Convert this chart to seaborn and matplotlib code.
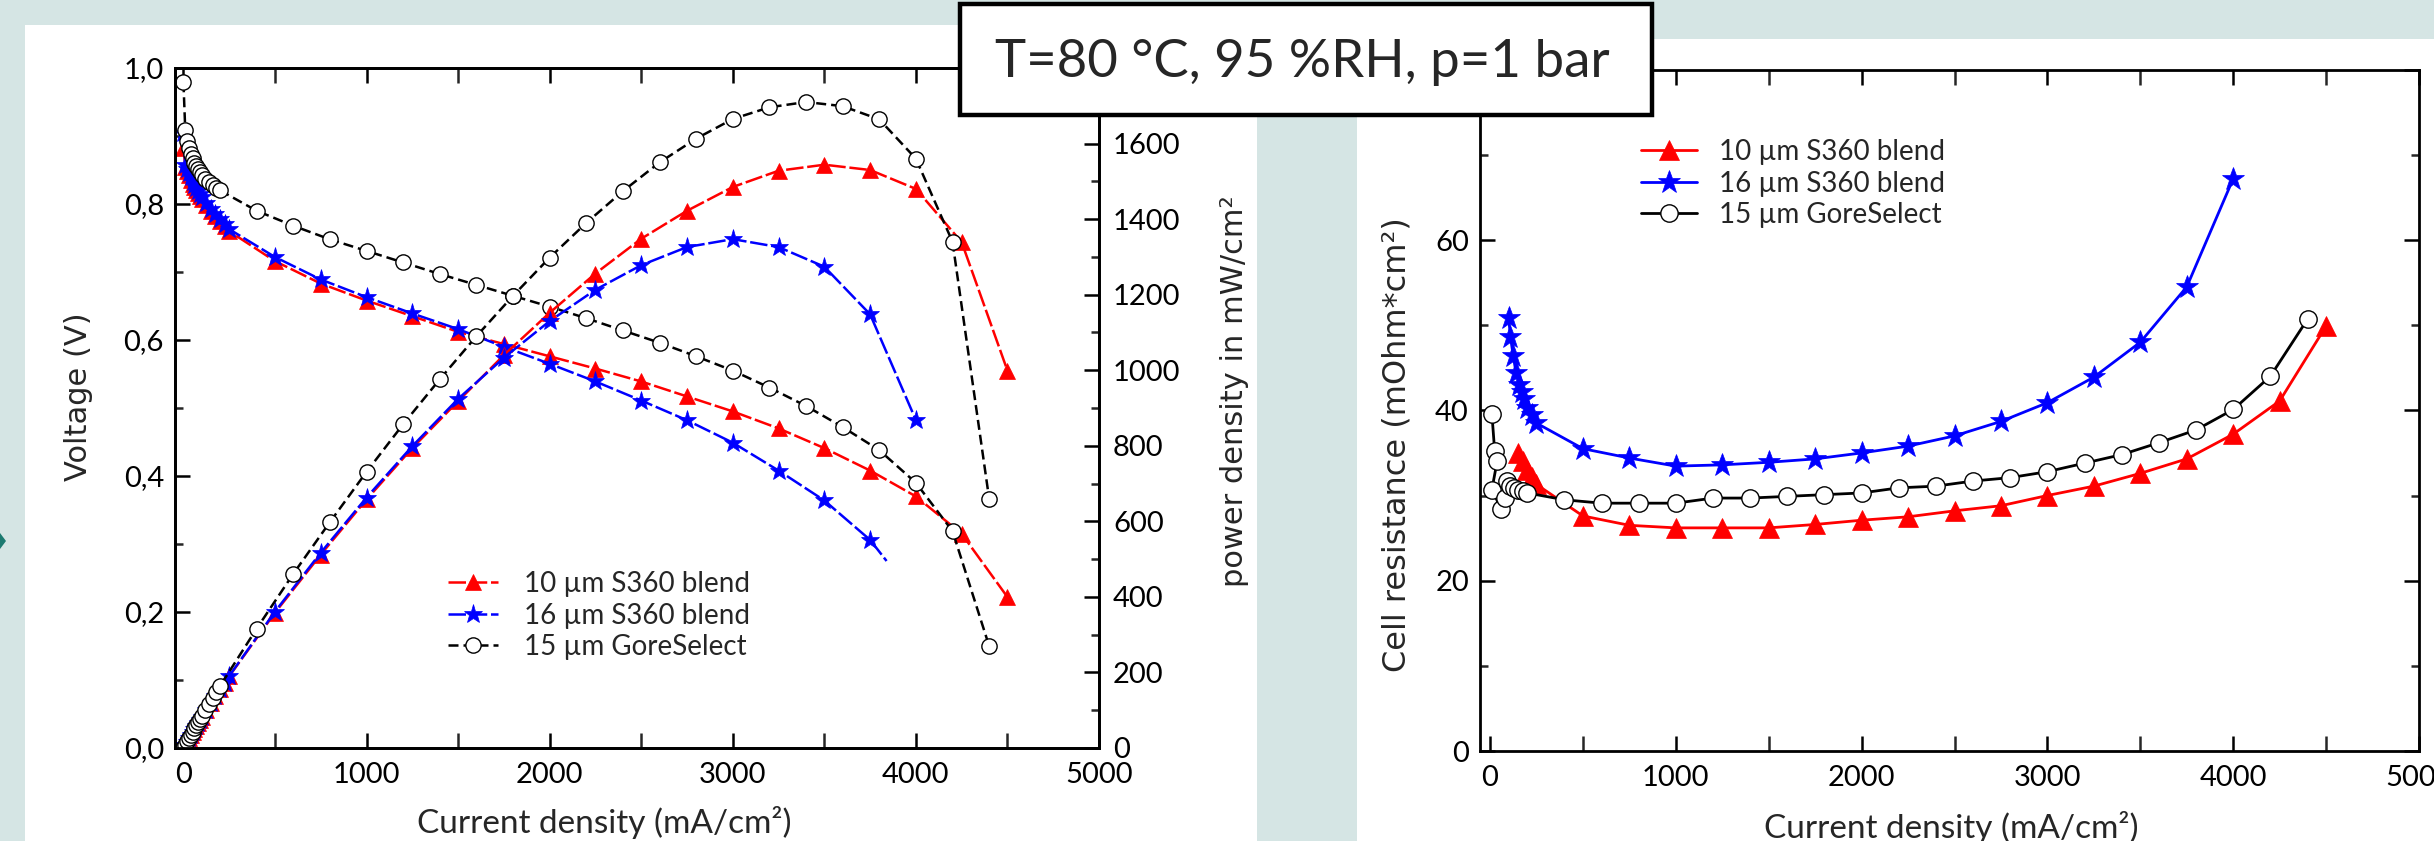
import matplotlib
matplotlib.use("Agg")
import matplotlib.pyplot as plt
import seaborn as sns
from matplotlib.patches import Rectangle, Polygon
from matplotlib.ticker import MultipleLocator, FuncFormatter

# ---------------- data ----------------
labels = ["10 µm S360 blend", "16 µm S360 blend", "15 µm GoreSelect"]

# 10 um S360 blend: polarisation (V) and power density (mW/cm2)
j_red = [0, 10, 20, 30, 40, 50, 60, 70, 80, 90, 100, 125, 150, 175, 200, 225, 250,
         500, 750, 1000, 1250, 1500, 1750, 2000, 2250, 2500, 2750, 3000, 3250,
         3500, 3750, 4000, 4250, 4500]
v_red = [0.883, 0.855, 0.848, 0.842, 0.836, 0.830, 0.825, 0.820, 0.816, 0.812, 0.808,
         0.799, 0.790, 0.782, 0.775, 0.767, 0.760,
         0.716, 0.683, 0.658, 0.635, 0.612, 0.594, 0.576, 0.558, 0.539, 0.517, 0.495,
         0.470, 0.441, 0.408, 0.370, 0.315, 0.222]
p_red = [0, 8.6, 17.0, 25.3, 33.4, 41.5, 49.5, 57.4, 65.3, 73.1, 80.8, 99.9, 118.5,
         136.9, 155, 172.6, 190,
         358, 512, 658, 794, 918, 1040, 1152, 1256, 1348, 1422, 1485, 1528, 1544,
         1530, 1480, 1339, 999]

# 16 um S360 blend (voltage line stops short of the last power point)
j_blue_v = [0, 10, 20, 30, 40, 50, 60, 70, 80, 90, 100, 125, 150, 175, 200, 225, 250,
            500, 750, 1000, 1250, 1500, 1750, 2000, 2250, 2500, 2750, 3000, 3250,
            3500, 3750, 3840]
v_blue = [0.905, 0.858, 0.851, 0.845, 0.839, 0.833, 0.828, 0.823, 0.819, 0.815, 0.811,
          0.802, 0.793, 0.785, 0.778, 0.770, 0.763,
          0.722, 0.689, 0.663, 0.639, 0.616, 0.590, 0.565, 0.539, 0.511, 0.482, 0.449,
          0.408, 0.364, 0.306, 0.275]
j_blue_p = [0, 10, 20, 30, 40, 50, 60, 70, 80, 90, 100, 125, 150, 175, 200, 225, 250,
            500, 750, 1000, 1250, 1500, 1750, 2000, 2250, 2500, 2750, 3000, 3250,
            3500, 3750, 4000]
p_blue = [0, 8.6, 17.0, 25.4, 33.6, 41.7, 49.7, 57.6, 65.5, 73.4, 81.1, 100.3, 119.0,
          137.4, 155.6, 173.3, 190.8,
          361, 517, 663, 799, 924, 1033, 1130, 1213, 1278, 1326, 1347, 1326, 1274,
          1148, 868]

# 15 um GoreSelect
j_blk = [0, 10, 20, 30, 40, 50, 60, 70, 80, 90, 100, 120, 140, 160, 180, 200,
         400, 600, 800, 1000, 1200, 1400, 1600, 1800, 2000, 2200, 2400, 2600,
         2800, 3000, 3200, 3400, 3600, 3800, 4000, 4200, 4400]
v_blk = [0.979, 0.909, 0.893, 0.883, 0.874, 0.867, 0.861, 0.856, 0.851, 0.847, 0.843,
         0.837, 0.832, 0.828, 0.824, 0.820,
         0.790, 0.768, 0.748, 0.731, 0.714, 0.697, 0.681, 0.665, 0.649, 0.632, 0.614,
         0.596, 0.576, 0.555, 0.530, 0.503, 0.472, 0.438, 0.390, 0.319, 0.150]
p_blk = [0, 9.1, 17.9, 26.5, 35.0, 43.4, 51.7, 59.9, 68.1, 76.2, 84.3, 100.4, 116.5,
         132.5, 148.3, 164.0,
         316, 461, 598, 731, 857, 976, 1090, 1197, 1298, 1390, 1474, 1550, 1613,
         1665, 1696, 1710, 1699, 1664, 1560, 1340, 660]

# cell resistance (mOhm*cm2)
j_red_r = [150, 175, 200, 225, 250, 500, 750, 1000, 1250, 1500, 1750, 2000, 2250,
           2500, 2750, 3000, 3250, 3500, 3750, 4000, 4250, 4500]
r_red = [35.0, 34.0, 33.0, 32.2, 31.3, 27.6, 26.5, 26.2, 26.2, 26.2, 26.6, 27.1, 27.5,
         28.2, 28.8, 30.0, 31.1, 32.6, 34.3, 37.2, 41.1, 49.9]
j_blue_r = [100, 110, 125, 140, 155, 170, 185, 200, 225, 250, 500, 750, 1000, 1250,
            1500, 1750, 2000, 2250, 2500, 2750, 3000, 3250, 3500, 3750, 4000]
r_blue = [50.9, 48.6, 46.4, 44.4, 43.0, 42.2, 41.3, 40.3, 39.5, 38.5, 35.5, 34.4, 33.45,
          33.6, 33.9, 34.3, 35.0, 35.8, 37.0, 38.7, 40.9, 43.9, 48.0, 54.5, 67.2]
j_blk_r = [10, 25, 38, 10, 60, 78, 90, 110, 130, 150, 175, 200,
           400, 600, 800, 1000, 1200, 1400, 1600, 1800, 2000, 2200, 2400, 2600,
           2800, 3000, 3200, 3400, 3600, 3800, 4000, 4200, 4400]
r_blk = [39.6, 35.2, 34.0, 30.7, 28.4, 29.7, 31.7, 31.1, 30.9, 30.7, 30.5, 30.3,
         29.5, 29.1, 29.1, 29.1, 29.7, 29.7, 29.9, 30.1, 30.3, 30.9, 31.1, 31.7,
         32.1, 32.8, 33.8, 34.8, 36.2, 37.7, 40.1, 44.0, 50.7]

# ---------------- style ----------------
sns.set_theme(style="ticks")
plt.rcParams["font.family"] = ["Lato", "DejaVu Sans"]
plt.rcParams["axes.linewidth"] = 2
plt.rcParams["axes.edgecolor"] = "black"

W, H = 2434, 841
bg = "#d5e5e4"
fig = plt.figure(figsize=(W / 100, H / 100), dpi=100, facecolor=bg)


def fx(px):
    return px / W


def fy(py):
    return 1 - py / H


# slide panels
fig.patches.append(Rectangle((fx(25), 0), fx(1257) - fx(25), fy(25), transform=fig.transFigure,
                             facecolor="white", edgecolor="none", zorder=-5))
fig.patches.append(Rectangle((fx(1357), 0), 1 - fx(1357), fy(39), transform=fig.transFigure,
                             facecolor="white", edgecolor="none", zorder=-5))
fig.patches.append(Polygon([(fx(0), fy(533)), (fx(6), fy(541)), (fx(0), fy(549))],
                           transform=fig.transFigure, facecolor="#1c7a70",
                           edgecolor="none", zorder=-4))

ax = fig.add_axes([fx(175), fy(748), fx(1099) - fx(175), fy(68) - fy(748)])
ax2 = ax.twinx()
axr = fig.add_axes([fx(1480), fy(751), fx(2419) - fx(1480), fy(69.7) - fy(751)])

red, blue = "#ff0000", "#0000ff"
dash_rb = (0, (7, 1.5))
dash_k = (0, (4, 2))
lw = 1.8

# polarisation curves
sns.lineplot(x=j_red, y=v_red, ax=ax, color=red, lw=lw, linestyle=dash_rb, marker="^",
             markersize=12, markeredgecolor=red, markeredgewidth=0.5, sort=False,
             estimator=None, legend=False)
sns.lineplot(x=j_blue_v, y=v_blue, ax=ax, color=blue, lw=lw, linestyle=dash_rb, marker="*",
             markersize=14, markeredgecolor=blue, markeredgewidth=0.5, sort=False,
             estimator=None, markevery=list(range(len(j_blue_v) - 1)), legend=False)
sns.lineplot(x=j_blk, y=v_blk, ax=ax, color="black", lw=lw, linestyle=dash_k, marker="o",
             markersize=11, markerfacecolor="white", markeredgecolor="black",
             markeredgewidth=1.0, sort=False, estimator=None, legend=False)

# power density curves
sns.lineplot(x=j_red, y=p_red, ax=ax2, color=red, lw=lw, linestyle=dash_rb, marker="^",
             markersize=12, markeredgecolor=red, markeredgewidth=0.5, sort=False,
             estimator=None, legend=False)
sns.lineplot(x=j_blue_p, y=p_blue, ax=ax2, color=blue, lw=lw, linestyle=dash_rb, marker="*",
             markersize=14, markeredgecolor=blue, markeredgewidth=0.5, sort=False,
             estimator=None, legend=False)
sns.lineplot(x=j_blk, y=p_blk, ax=ax2, color="black", lw=lw, linestyle=dash_k, marker="o",
             markersize=11, markerfacecolor="white", markeredgecolor="black",
             markeredgewidth=1.0, sort=False, estimator=None, legend=False)

# resistance curves
sns.lineplot(x=j_red_r, y=r_red, ax=axr, color=red, lw=2, marker="^", markersize=15,
             markeredgecolor=red, markeredgewidth=0.5, sort=False, estimator=None,
             legend=False)
sns.lineplot(x=j_blue_r, y=r_blue, ax=axr, color=blue, lw=2, marker="*", markersize=17,
             markeredgecolor=blue, markeredgewidth=0.5, sort=False, estimator=None,
             legend=False)
sns.lineplot(x=j_blk_r, y=r_blk, ax=axr, color="black", lw=2, marker="o", markersize=12.5,
             markerfacecolor="white", markeredgecolor="black", markeredgewidth=1.0,
             sort=False, estimator=None, legend=False)

# ---------------- axes ----------------
ax.set_xlim(-46, 5000)
ax.set_ylim(0, 1.0)
ax2.set_ylim(0, 1800)
axr.set_xlim(-54, 5000)
axr.set_ylim(0, 80)

# the top labels (1800, 80) sit under the condition box in the slide
comma = FuncFormatter(lambda v, _: f"{v:.1f}".replace(".", ","))
hide_top_p = FuncFormatter(lambda v, _: "" if v > 1700 else f"{v:.0f}")
hide_top_r = FuncFormatter(lambda v, _: "" if v > 70 else f"{v:.0f}")
ax.xaxis.set_major_locator(MultipleLocator(1000))
ax.xaxis.set_minor_locator(MultipleLocator(500))
ax.yaxis.set_major_locator(MultipleLocator(0.2))
ax.yaxis.set_minor_locator(MultipleLocator(0.1))
ax.yaxis.set_major_formatter(comma)
ax2.yaxis.set_major_locator(MultipleLocator(200))
ax2.yaxis.set_minor_locator(MultipleLocator(100))
ax2.yaxis.set_major_formatter(hide_top_p)
axr.xaxis.set_major_locator(MultipleLocator(1000))
axr.xaxis.set_minor_locator(MultipleLocator(500))
axr.yaxis.set_major_locator(MultipleLocator(20))
axr.yaxis.set_minor_locator(MultipleLocator(10))
axr.yaxis.set_major_formatter(hide_top_r)

for a in (ax, ax2, axr):
    a.set_facecolor("none")
    for s in a.spines.values():
        s.set_linewidth(2)
        s.set_color("black")
    a.tick_params(which="major", direction="in", length=11, width=1.8, labelsize=21,
                  pad=8, colors="black")
    a.tick_params(which="minor", direction="in", length=6, width=1.8)

ax.set_facecolor("white")
axr.set_facecolor("white")
ax.tick_params(axis="x", which="both", top=True, bottom=True)
ax.tick_params(axis="x", which="major", pad=10)
ax.tick_params(axis="x", which="minor", length=11)
ax.tick_params(axis="y", which="both", left=True, right=False)
ax2.tick_params(axis="y", which="both", right=True, left=False, pad=10)
axr.tick_params(which="both", top=True, right=True, bottom=True, left=True)
axr.tick_params(axis="x", which="major", pad=10)
axr.tick_params(axis="x", which="minor", length=11)

ax.set_xlabel("Current density (mA/cm²)", fontsize=24)
ax.xaxis.set_label_coords(0.465, -0.11)
ax.set_ylabel("Voltage (V)", fontsize=22, family="DejaVu Sans")
ax.yaxis.set_label_coords(-0.104, 0.516)
ax2.set_ylabel("power density in mW/cm²", fontsize=22, family="DejaVu Sans")
ax2.yaxis.set_label_coords(1.147, 0.525)
axr.set_xlabel("Current density (mA/cm²)", fontsize=24)
axr.xaxis.set_label_coords(0.5016, -0.113)
axr.set_ylabel("Cell resistance (mOhm*cm²)", fontsize=23, family="DejaVu Sans")
axr.yaxis.set_label_coords(-0.0884, 0.449)
for lab in (ax.xaxis.label, ax.yaxis.label, ax2.yaxis.label, axr.xaxis.label, axr.yaxis.label):
    lab.set_verticalalignment("center")
    lab.set_horizontalalignment("center")

# legends
ax2.legend(handles=ax.get_lines(), labels=labels, loc="upper left",
           bbox_to_anchor=(fx(448), fy(571)), bbox_transform=fig.transFigure,
           frameon=False, fontsize=20, borderpad=0, borderaxespad=0,
           handlelength=1.8, handletextpad=0.95, labelspacing=0.2)
axr.legend(handles=axr.get_lines(), labels=labels, loc="upper left",
           bbox_to_anchor=(fx(1641), fy(139)), bbox_transform=fig.transFigure,
           frameon=False, fontsize=20, borderpad=0, borderaxespad=0,
           handlelength=2.0, handletextpad=0.8, labelspacing=0.2)

# condition box
fig.patches.append(Rectangle((fx(960), fy(115)), fx(1652) - fx(960), fy(4) - fy(115),
                             transform=fig.transFigure, facecolor="white",
                             edgecolor="black", linewidth=3.2, zorder=10))
fig.text(fx(1302), fy(62), "T=80 °C, 95 %RH, p=1 bar", fontsize=38, ha="center",
         va="center", zorder=11)

fig.savefig("out.png", dpi=100, facecolor=bg)
